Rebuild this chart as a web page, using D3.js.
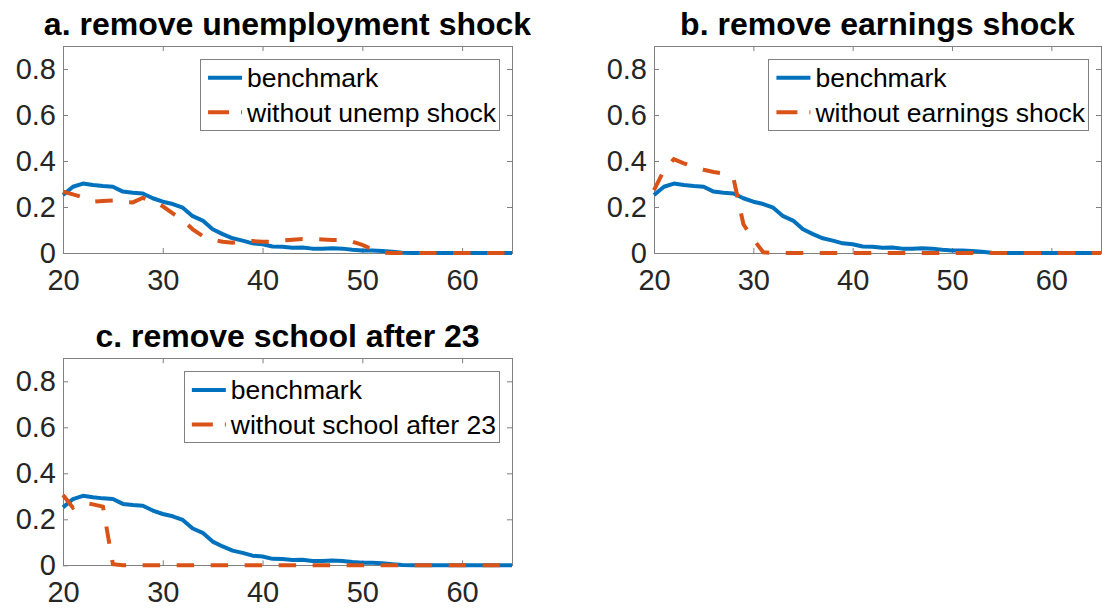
<!DOCTYPE html>
<meta charset="utf-8">
<script src="https://d3js.org/d3.v7.min.js"></script>
<style>
  body { margin: 0; background: #fff; }
  text { font-family: "Liberation Sans", Arial, Helvetica, sans-serif; }
</style>

<div id="chart"></div>

<script>
// ages on the x axis
var ages = [20,21,22,23,24,25,26,27,28,29,30,31,32,33,34,35,36,37,38,39,40,41,42,
            43,44,45,46,47,48,49,50,51,52,53,54,55,56,57,58,59,60,61,62,63,64,65];

// benchmark (same in every panel)
var benchmark = [0.252,0.288,0.302,0.296,0.291,0.288,0.267,0.262,0.259,0.238,0.223,0.213,
                 0.197,0.160,0.141,0.103,0.082,0.064,0.054,0.042,0.038,0.028,0.027,0.023,
                 0.024,0.019,0.019,0.021,0.019,0.014,0.011,0.011,0.009,0.005,0.001,
                 0,0,0,0,0,0,0,0,0,0,0];

// counterfactuals
var noUnemp = [0.267,0.255,0.242,0.223,0.226,0.228,0.221,0.220,0.240,0.224,0.203,0.172,
               0.143,0.103,0.074,0.057,0.049,0.045,0.051,0.052,0.049,0.049,0.054,0.058,
               0.061,0.061,0.059,0.057,0.057,0.049,0.035,0.016,0.001,
               0,0,0,0,0,0,0,0,0,0,0,0,0];

var noEarnings = [0.273,0.360,0.408,0.390,0.375,0.362,0.352,0.345,0.325,0.125,0.060,0.003,
                  0,0,0,0,0,0,0,0,0,0,0,0,0,0,0,0,0,0,0,0,0,0,0,0,0,0,0,0,0,0,0,0,0,0];

var noSchool = [0.306,0.250,0.272,0.265,0.255,0.005,
                0,0,0,0,0,0,0,0,0,0,0,0,0,0,0,0,0,0,0,0,0,0,0,0,0,0,0,0,0,0,0,0,0,0,0,0,0,0,0,0];

var xTicks = [20, 30, 40, 50, 60];
var yTicks = [0, 0.2, 0.4, 0.6, 0.8];

var titles = ["a. remove unemployment shock", "b. remove earnings shock", "c. remove school after 23"];
var altLabels = ["without unemp shock", "without earnings shock", "without school after 23"];

var blue = "#0072BD", orange = "#D95319", axisGray = "#808080", textGray = "#262626";

var svg = d3.select("#chart")
  .append("svg")
    .attr("width", 1102)
    .attr("height", 609);

var panels = [
  {title: titles[0], alt: noUnemp,    label: altLabels[0], left: 63,  right: 512,  top: 46,    bottom: 253},
  {title: titles[1], alt: noEarnings, label: altLabels[1], left: 654, right: 1101, top: 46,    bottom: 253},
  {title: titles[2], alt: noSchool,   label: altLabels[2], left: 63,  right: 512,  top: 358.3, bottom: 565.3}
];

panels.forEach(drawPanel);

function drawPanel(p) {
  var x = d3.scaleLinear().domain([20, 65]).range([p.left, p.right]);
  var y = d3.scaleLinear().domain([0, 0.9]).range([p.bottom, p.top]);

  var g = svg.append("g");

  // box
  g.append("rect")
    .attr("x", p.left).attr("y", p.top)
    .attr("width", p.right - p.left).attr("height", p.bottom - p.top)
    .attr("fill", "none")
    .attr("stroke", axisGray)
    .attr("shape-rendering", "crispEdges");

  // axes with inward ticks
  var bottomAxis = g.append("g")
    .attr("transform", "translate(0," + p.bottom + ")")
    .call(d3.axisBottom(x).tickValues(xTicks).tickSizeInner(-5).tickSizeOuter(0).tickPadding(16.5));
  var topAxis = g.append("g")
    .attr("transform", "translate(0," + p.top + ")")
    .call(d3.axisTop(x).tickValues(xTicks).tickSizeInner(-5).tickSizeOuter(0).tickFormat(""));
  var leftAxis = g.append("g")
    .attr("transform", "translate(" + p.left + ",0)")
    .call(d3.axisLeft(y).tickValues(yTicks).tickSizeInner(-5).tickSizeOuter(0).tickPadding(7)
      .tickFormat(function(d) { return d === 0 ? "0" : d3.format(".1f")(d); }));
  var rightAxis = g.append("g")
    .attr("transform", "translate(" + p.right + ",0)")
    .call(d3.axisRight(y).tickValues(yTicks).tickSizeInner(-5).tickSizeOuter(0).tickFormat(""));

  [bottomAxis, topAxis, leftAxis, rightAxis].forEach(function(a) {
    a.select(".domain").remove();
    a.selectAll("line").attr("stroke", axisGray);
    a.selectAll("text")
      .attr("fill", textGray)
      .style("font-size", "29px");
  });

  // lines
  var line = d3.line()
    .x(function(d, i) { return x(ages[i]); })
    .y(function(d) { return y(d); });

  g.append("path")
    .datum(benchmark)
    .attr("fill", "none")
    .attr("stroke", blue)
    .attr("stroke-width", 4)
    .attr("stroke-linejoin", "round")
    .attr("d", line);

  g.append("path")
    .datum(p.alt)
    .attr("fill", "none")
    .attr("stroke", orange)
    .attr("stroke-width", 4)
    .attr("stroke-dasharray", "17.5,16.5")
    .attr("d", line);

  // title
  g.append("text")
    .attr("x", (p.left + p.right) / 2)
    .attr("y", p.top - 11)
    .attr("text-anchor", "middle")
    .style("font-size", "32px")
    .style("font-weight", "bold")
    .attr("fill", "#000")
    .text(p.title);

  // legend
  var lg = g.append("g");
  var box = lg.append("rect")
    .attr("fill", "#fff")
    .attr("stroke", axisGray)
    .attr("shape-rendering", "crispEdges");

  var entries = [
    {label: "benchmark", color: blue, dash: null},
    {label: p.label, color: orange, dash: "21,12"}
  ];
  var texts = lg.selectAll("text.leg")
    .data(entries)
    .enter()
    .append("text")
      .attr("class", "leg")
      .attr("dy", "0.35em")
      .style("font-size", "26.5px")
      .attr("fill", "#000")
      .text(function(d) { return d.label; });

  var maxLen = 0;
  texts.each(function() { maxLen = Math.max(maxLen, this.getComputedTextLength()); });

  var boxRight = p.right - 13;
  var boxW = 7.5 + 34 + 5 + maxLen + 3;
  var boxLeft = boxRight - boxW;
  var boxTop = p.top + 13;
  var rowY = [boxTop + 18.7, boxTop + 53.3];

  box.attr("x", boxLeft).attr("y", boxTop)
    .attr("width", boxW).attr("height", 71);

  texts
    .attr("x", boxLeft + 7.5 + 34 + 5)
    .attr("y", function(d, i) { return rowY[i]; });

  lg.selectAll("line.leg")
    .data(entries)
    .enter()
    .append("line")
      .attr("x1", boxLeft + 7.5)
      .attr("x2", boxLeft + 7.5 + 34)
      .attr("y1", function(d, i) { return rowY[i]; })
      .attr("y2", function(d, i) { return rowY[i]; })
      .attr("stroke", function(d) { return d.color; })
      .attr("stroke-width", 4)
      .attr("stroke-dasharray", function(d) { return d.dash; });
}
</script>
